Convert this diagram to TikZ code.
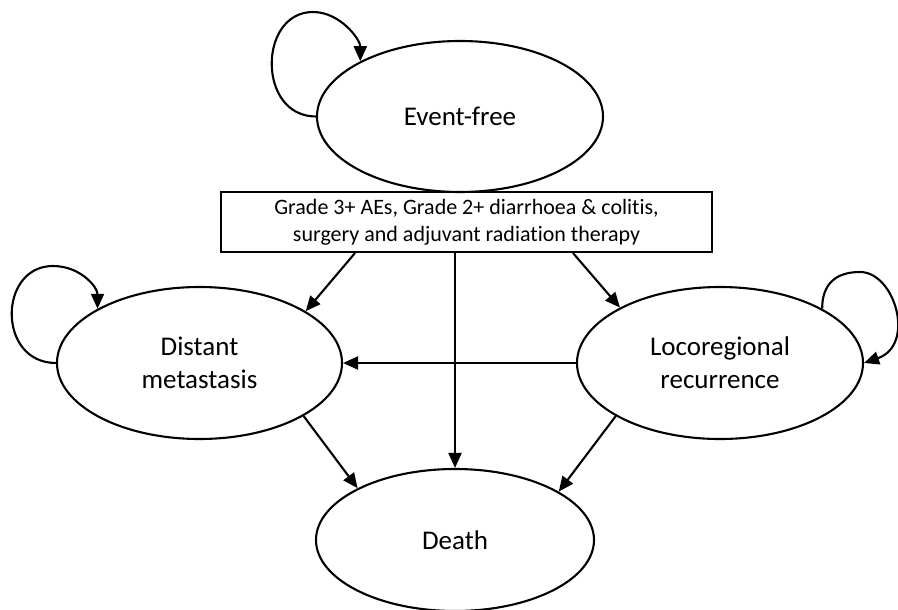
\documentclass[tikz,border=0pt]{standalone}
\usepackage{fontspec}
\setmainfont{Carlito}[Ligatures=NoCommon]
\usetikzlibrary{shapes.geometric,arrows.meta,calc}
\begin{document}
\begin{tikzpicture}[x=1pt,y=-1pt,
  state/.style={ellipse,draw,line width=2.1pt,inner sep=0pt,align=center,
    font=\fontsize{27}{33}\selectfont},
  eventbox/.style={rectangle,draw,line width=2.1pt,inner sep=0pt,align=center,
    minimum width=491pt,minimum height=60pt,font=\fontsize{22}{27}\selectfont},
  conn/.style={line width=2.1pt,-{Triangle[length=15pt,width=13pt]}}]
\useasboundingbox (0,0) rectangle (898,610);
\node[state,minimum width=286pt,minimum height=151pt] (EF) at (460,116.5) {Event-free};
\node[eventbox] (box) at (466.5,222) {Grade 3+ AEs, Grade 2+ diarrhoea \& colitis,\\surgery and adjuvant radiation therapy};
\node[state,minimum width=285pt,minimum height=152pt] (DM) at (199.5,363) {Distant\\metastasis};
\node[state,minimum width=286pt,minimum height=152pt] (LR) at (720,363) {Locoregional\\recurrence};
\node[state,minimum width=278pt,minimum height=142pt] (D) at (455,540) {Death};
\coordinate (eftop) at (313,12);
\coordinate (dmtop) at (53,266);
\coordinate (lrtop) at (860,272);
% connectors
\draw[conn] ($(box.south)+(-111.5,0)$) -- (DM.26.5);
\draw[conn] ($(box.south)+(-11.5,0)$) -- (D.north);
\draw[conn] ($(box.south)+(106.5,0)$) -- (LR.151.7);
\draw[conn] (LR.west) -- (DM.east);
\draw[conn] (DM.-27.4) -- (D.152.5);
\draw[conn] (LR.207) -- (D.25.3);
% self loops
\draw[conn] (EF.west) .. controls +(-59,0) and +(-55,0) .. (eftop)
  .. controls +(27,0) and +(0,-22) .. (EF.151.9);
\draw[conn] (DM.west) .. controls +(-59,0) and +(-55,0) .. (dmtop)
  .. controls +(27,0) and +(0,-22) .. (DM.152.7);
\draw[conn] (LR.28.4) .. controls +(0,-24) and +(-25,0) .. (lrtop)
  .. controls +(35,0) and +(52,-18) .. (LR.east);
\end{tikzpicture}
\end{document}
